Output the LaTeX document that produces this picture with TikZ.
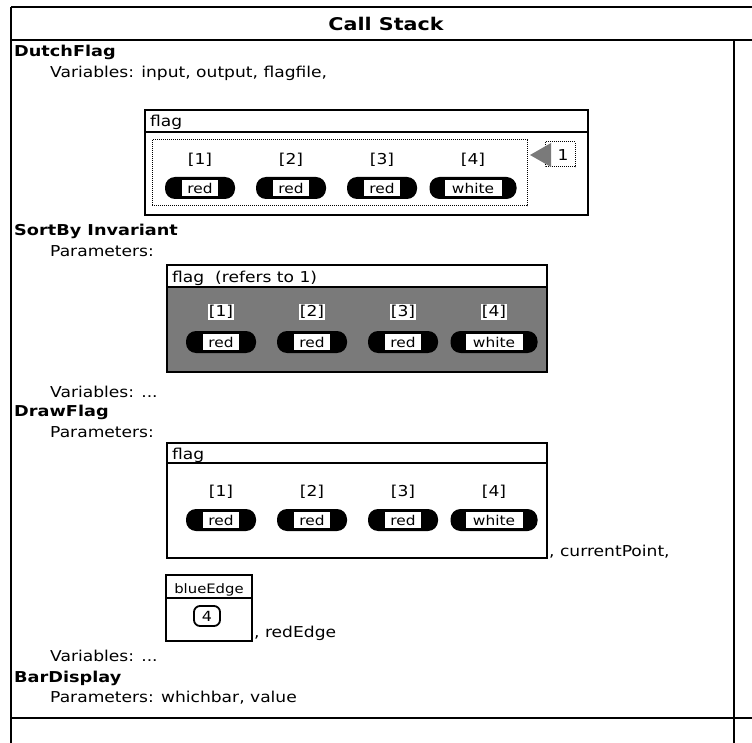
\documentclass[tikz,border=0pt]{standalone}
\usepackage{fontspec}
\setmainfont{DejaVu Sans}
\newfontfamily\headfont[FakeStretch=1.18]{DejaVu Sans Bold}
\newfontfamily\bodyfont[FakeStretch=1.14]{DejaVu Sans}
\begin{document}
\begin{tikzpicture}[x=1pt,y=-1pt,
  frame/.style={line width=1.6pt},
  boxline/.style={line width=1.2pt},
  txt/.style={anchor=base west,inner sep=0pt,font=\bodyfont\fontsize{15}{17}\selectfont},
  head/.style={anchor=base west,inner sep=0pt,font=\headfont\fontsize{15}{17}\selectfont},
  idx/.style={inner sep=1pt,font=\bodyfont\fontsize{15}{17}\selectfont},
  pill/.style={rectangle,fill=black,rounded corners=10pt,minimum height=22pt,inner sep=0pt},
  cellval/.style={rectangle,fill=white,minimum height=16pt,inner sep=0pt,font=\bodyfont\fontsize{13.5}{16}\selectfont},
  shade/.style={fill=black!52},
]
\useasboundingbox (0,0) rectangle (752,743);

% window frame
\draw[frame] (11,7) -- (752,7);
\draw[frame] (11,7) -- (11,743);
\draw[frame] (11,40) -- (752,40);
\draw[frame] (734,40) -- (734,743);
\draw[frame] (11,718) -- (752,718);
\node[font=\headfont\fontsize{17.5}{20}\selectfont] (title) at (386,24) {Call Stack};

% one row of array cells: prefix, first pill centre x, index y, pill y, index style
\newcommand\flagrow[5]{%
  \foreach \i/\dx/\w/\iw/\v in {1/0/70/36/red,2/91/70/36/red,3/182/70/36/red,4/273/87/57/white}{
    \node[idx,#5] (#1l\i) at ({#2+\dx},#3) {[\i]};
    \node[pill,minimum width=\w] (#1p\i) at ({#2+\dx},#4) {};
    \node[cellval,minimum width=\iw] (#1v\i) at (#1p\i) {\v};
  }}

% DutchFlag
\node[head] (dutch) at (14,57) {DutchFlag};
\node[txt] (dutchvars) at (50,78) {Variables: input, output, flagfile,};
\draw[boxline] (145,110) rectangle (588,215);
\draw[boxline] (145,132) -- (588,132);
\node[txt] (flagA) at (150,127) {flag};
\draw[densely dotted,line width=1pt] (152,140) rectangle (527,206);
\flagrow{a}{200}{160}{188}{}
\draw[densely dotted,line width=1pt] (545,142) rectangle (575,167);
\fill[shade] (530,155) -- (551,143) -- (551,167) -- cycle;
\node[txt,anchor=center] (refone) at (563,155) {1};

% SortByInvariant
\node[head] (sortby) at (14,236) {SortBy Invariant};
\node[txt] (sortpar) at (50,257) {Parameters:};
\fill[shade] (167,287) rectangle (547,372);
\draw[boxline] (167,265) rectangle (547,372);
\draw[boxline] (167,287) -- (547,287);
\node[txt] (flagB) at (172,283) {flag\ \ (refers to 1)};
\flagrow{b}{221}{312}{342}{fill=white}
\node[txt] (sortvars) at (50,397) {Variables: ...};

% DrawFlag
\node[head] (draw) at (14,416) {DrawFlag};
\node[txt] (drawpar) at (50,437) {Parameters:};
\draw[boxline] (167,443) rectangle (547,558);
\draw[boxline] (167,463) -- (547,463);
\node[txt] (flagC) at (172,459) {flag};
\flagrow{c}{221}{492}{520}{}
\node[txt] (curpt) at (549,556) {, currentPoint,};
\draw[boxline] (166,575) rectangle (252,641);
\draw[boxline] (166,598) -- (252,598);
\node[txt,anchor=base,font=\bodyfont\fontsize{13}{15}\selectfont] (blue) at (209,593) {blueEdge};
\node[draw,line width=1.8pt,rounded corners=6pt,minimum width=26pt,minimum height=20pt,inner sep=0pt,font=\bodyfont\fontsize{14}{16}\selectfont] (bluev) at (207,616) {4};
\node[txt] (rededge) at (254,637) {, redEdge};
\node[txt] (drawvars) at (50,661) {Variables: ...};

% BarDisplay
\node[head] (bar) at (14,682) {BarDisplay};
\node[txt] (barpar) at (50,702) {Parameters: whichbar, value};
\end{tikzpicture}
\end{document}
